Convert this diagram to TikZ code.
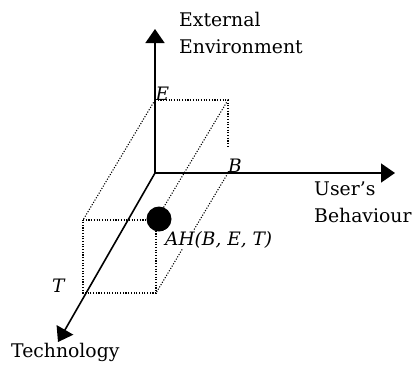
\documentclass[tikz,border=0pt]{standalone}
\usepackage{fontspec}
\setmainfont{DejaVu Serif}
\usetikzlibrary{
    arrows.meta,
    calc,
}

\begin{document}
\begin{tikzpicture}[
        x=1pt, y=-1pt,
        axis/.style={line width=1.6pt, -{Triangle[length=14pt, width=19pt]}},
        hidden/.style={line width=1.1pt, dash pattern=on 1.1pt off 1.6pt},
        axislabel/.style={font=\fontsize{18.8}{26.5}\selectfont, align=left, anchor=base west, inner sep=0pt},
        pointlabel/.style={font=\fontsize{18.5}{22}\selectfont\itshape, anchor=base west, inner sep=0pt},
        ]
        \useasboundingbox (0,0) rectangle (412,365);
        % axes
        \coordinate (O) at (155,173);
        \coordinate (EEND) at (155,29);
        \coordinate (BEND) at (395,173);
        \coordinate (TEND) at (58,342);
        % box corners
        \coordinate (E) at (155,100);
        \coordinate (B) at (228,173);
        \coordinate (EB) at (228,100);
        \coordinate (EBcut) at (228,148);
        \coordinate (T) at (83,293);
        \coordinate (ET) at (83,220);
        \coordinate (BT) at (156,293);
        \coordinate (EBT) at (156,220);
        \draw[hidden] (E) -- (EB) -- (EBcut);
        \draw[hidden] (E) -- (ET);
        \draw[hidden] (EB) -- (EBT);
        \draw[hidden] (B) -- (BT);
        \draw[hidden] (ET) -- (EBT) -- (BT) -- (T) -- cycle;
        \draw[axis] (O) -- (EEND);
        \draw[axis] (O) -- (BEND);
        \draw[axis] (O) -- (TEND);
        \fill (159,219) circle (12.5pt);
        % labels
        \node[axislabel] (EXT) at (179,53) {External\\Environment};
        \node[axislabel] (USR) at (314,222) {User's\\Behaviour};
        \node[axislabel] (TEC) at (11,357) {Technology};
        \node[pointlabel] (LE) at (155.5,100) {E};
        \node[pointlabel] (LB) at (228,172) {B};
        \node[pointlabel] (LT) at (52,292) {T};
        \node[pointlabel, fill=white, inner sep=1pt] (AH) at (164,245) {AH(B, E, T)};
\end{tikzpicture}
\end{document}
